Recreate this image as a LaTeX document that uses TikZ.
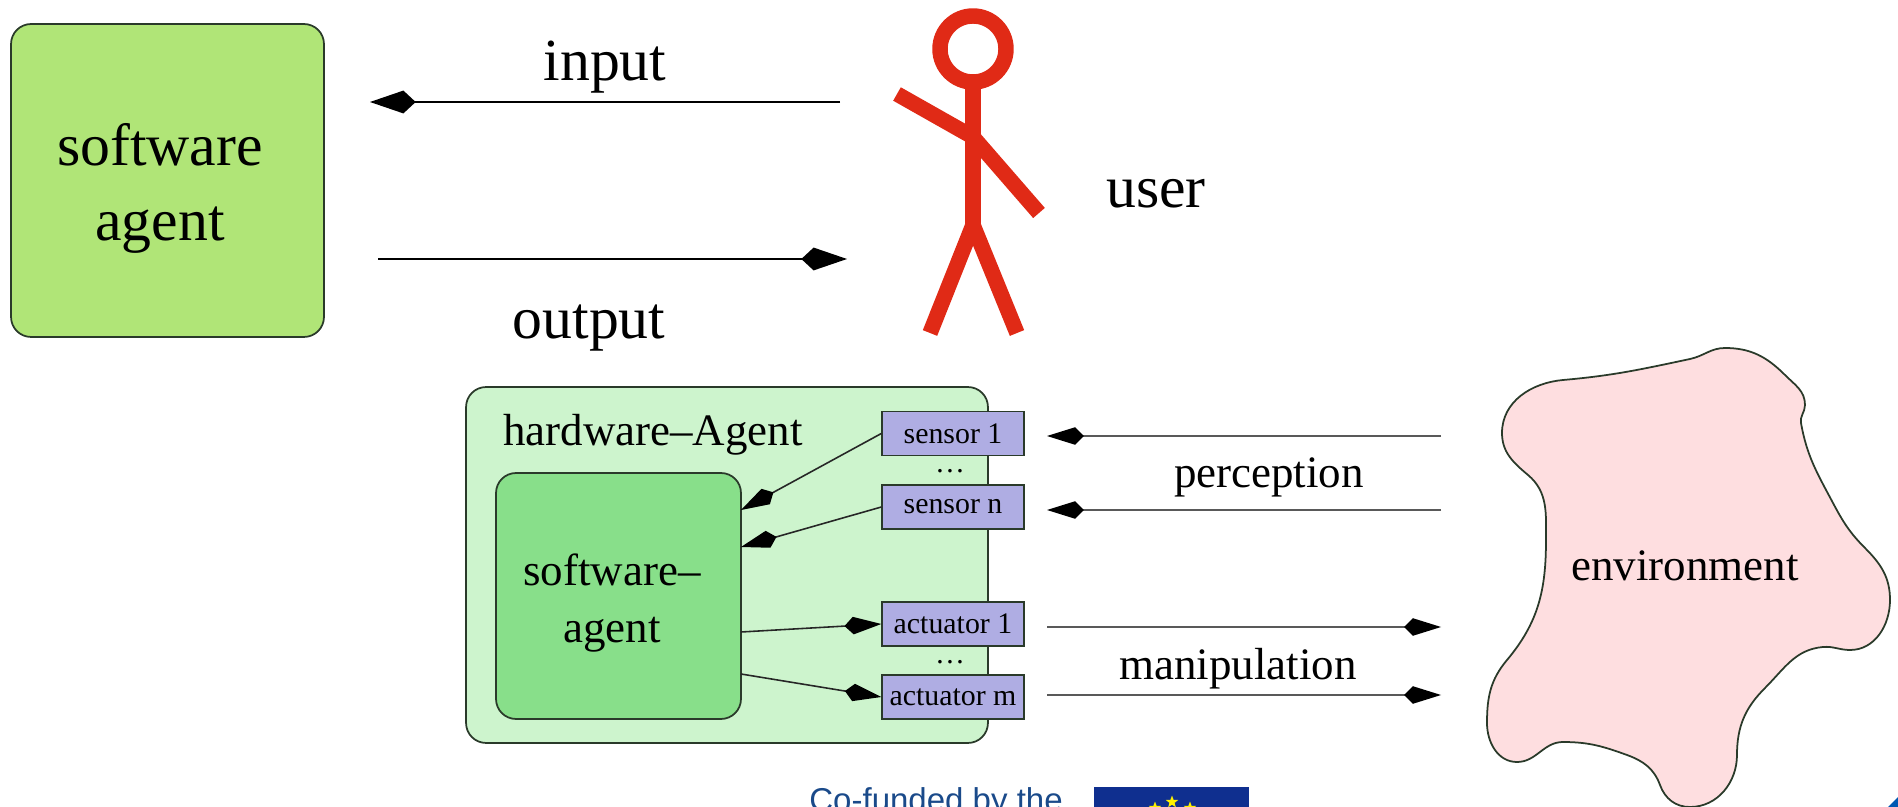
\documentclass[tikz,border=0pt]{standalone}
\usepackage{fontspec}
\setmainfont{Liberation Serif}
\newfontfamily\fundfont{Liberation Sans}
\usetikzlibrary{arrows.meta,shapes.geometric}
\definecolor{softgreen}{HTML}{B0E577}
\definecolor{hwgreen}{HTML}{CDF4CD}
\definecolor{innergreen}{HTML}{88DF8A}
\definecolor{sensorblue}{HTML}{AFADE3}
\definecolor{envpink}{HTML}{FEDEE0}
\definecolor{userred}{HTML}{E02A16}
\definecolor{fundblue}{HTML}{1A4A8A}
\definecolor{flagblue}{HTML}{0F2F8F}
\definecolor{edgegrey}{HTML}{2A3A2A}
\tikzset{
  bigtext/.style={font=\fontsize{34}{42.7}\selectfont, align=center},
  midtext/.style={font=\fontsize{25.6}{32.4}\selectfont, align=center},
  smalltext/.style={font=\fontsize{17}{20}\selectfont},
  agentbox/.style={draw=edgegrey, line width=1pt, rounded corners=0.4cm},
  portbox/.style={draw=edgegrey, line width=0.8pt, fill=sensorblue, minimum width=2.84cm, minimum height=0.88cm, inner sep=0pt},
  bigflow/.style={line width=1.3pt, -{Kite[length=26pt,width=13pt,inset=7pt]}},
  portflow/.style={line width=0.9pt, draw=black!85, -{Kite[length=21pt,width=10pt,inset=5pt,color=black,fill=black]}},
  limb/.style={draw=userred, line width=8.8pt},
  euflag/.style={star, star points=5, star point ratio=2.4, fill=yellow, inner sep=0pt, minimum size=0.26cm}
}
\begin{document}
\begin{tikzpicture}[x=0.02cm,y=-0.02cm]
  \useasboundingbox (0,0) rectangle (1898,807);
  % top row
  \node[agentbox, fill=softgreen, minimum width=6.26cm, minimum height=6.26cm] (softbox) at (167.5,180.5) {};
  \node[bigtext] (softlabel) at (160,188) {software\\agent};
  \coordinate (inputstart) at (840,102);
  \coordinate (inputend) at (370,102);
  \coordinate (outputstart) at (378,259);
  \coordinate (outputend) at (847,259);
  \draw[bigflow] (inputstart) -- (inputend);
  \draw[bigflow] (outputstart) -- (outputend);
  \node[bigtext] (inputlabel) at (605,67) {input};
  \node[bigtext] (outputlabel) at (589,328) {output};
  % the user
  \draw[limb] (973,49) circle (33);
  \draw[limb] (973,82) -- (973,225);
  \draw[limb] (897,94) -- (973,137) -- (1039,213);
  \draw[limb] (930,333) -- (973,225) -- (1017,333);
  \node[bigtext] (userlabel) at (1156,194) {user};
  % hardware agent
  \node[agentbox, fill=hwgreen, minimum width=10.44cm, minimum height=7.12cm] (hwbox) at (727,565) {};
  \node[agentbox, fill=innergreen, minimum width=4.9cm, minimum height=4.92cm] (innerbox) at (618.5,596) {};
  \node[midtext] (hwlabel) at (653,435) {hardware--Agent};
  \node[midtext] (innerlabel) at (612,603) {software--\\agent};
  \node[portbox, smalltext] (sensorone) at (953,433.5) {sensor 1};
  \node[portbox, smalltext] (sensorn) at (953,507) {sensor n};
  \node[portbox, smalltext] (actuatorone) at (953,624) {actuator 1};
  \node[portbox, smalltext] (actuatorm) at (953,697) {actuator m};
  \node[smalltext, inner sep=0pt] (sensordots) at (950,471) {\dots};
  \node[smalltext, inner sep=0pt] (actuatordots) at (950,662) {\dots};
  \coordinate (insensorone) at (741,510);
  \coordinate (insensorn) at (741,547);
  \coordinate (inactuatorone) at (741,632);
  \coordinate (inactuatorm) at (741,674);
  \draw[portflow] (sensorone.west) -- (insensorone);
  \draw[portflow] (sensorn.west) -- (insensorn);
  \draw[portflow] (inactuatorone) -- (actuatorone.west);
  \draw[portflow] (inactuatorm) -- (actuatorm.west);
  % environment
  \draw[draw=edgegrey, line width=1pt, fill=envpink] (1563,380)
    to[out=5,in=192] (1690,359) to[out=12,in=180] (1725,348)
    to[out=0,in=135] (1785,375) to[out=-45,in=90] (1805,405)
    to[out=-90,in=100] (1801,423) to[out=-80,in=118] (1833,503)
    to[out=-62,in=135] (1865,548) to[out=-45,in=90] (1890,600)
    to[out=-90,in=0] (1850,650) to[out=180,in=5] (1823,647)
    to[out=185,in=45] (1765,688) to[out=225,in=90] (1737,755)
    to[out=-90,in=0] (1690,807) to[out=180,in=-70] (1660,785)
    to[out=110,in=-20] (1627,755) to[out=160,in=0] (1563,742)
    to[out=180,in=0] (1517,762) to[out=180,in=-90] (1487,723)
    to[out=90,in=-130] (1507,660) to[out=50,in=-90] (1546,540)
    to[out=90,in=-40] (1528,475) to[out=140,in=-90] (1502,433)
    to[out=90,in=185] (1563,380) -- cycle;
  \node[midtext] (envlabel) at (1685,566) {environment};
  \coordinate (envsensorone) at (1441,436);
  \coordinate (envsensorn) at (1441,510);
  \coordinate (envactuatorone) at (1441,627);
  \coordinate (envactuatorm) at (1441,695);
  \coordinate (portsensorone) at (1047,436);
  \coordinate (portsensorn) at (1047,510);
  \coordinate (portactuatorone) at (1047,627);
  \coordinate (portactuatorm) at (1047,695);
  \draw[portflow, draw=black!65] (envsensorone) -- (portsensorone);
  \draw[portflow, draw=black!65] (envsensorn) -- (portsensorn);
  \draw[portflow, draw=black!65] (portactuatorone) -- (envactuatorone);
  \draw[portflow, draw=black!65] (portactuatorm) -- (envactuatorm);
  \node[midtext] (perceptlabel) at (1269,477) {perception};
  \node[midtext] (maniplabel) at (1238,669) {manipulation};
  % bottom edge
  \node[anchor=base west, inner sep=0pt, text=fundblue, font=\fundfont\fontsize{18.8}{22}\selectfont] (fundlabel) at (809,811) {Co-funded by the};
  \fill[flagblue] (1094,787) rectangle (1249,807);
  \node[euflag] (startop) at (1172,802) {};
  \node[euflag] (starleft) at (1155,808) {};
  \node[euflag] (starright) at (1190,808) {};
  \fill[blue!50!cyan!70!black] (1888,807) -- (1898,797) -- (1898,807) -- cycle;
\end{tikzpicture}
\end{document}
